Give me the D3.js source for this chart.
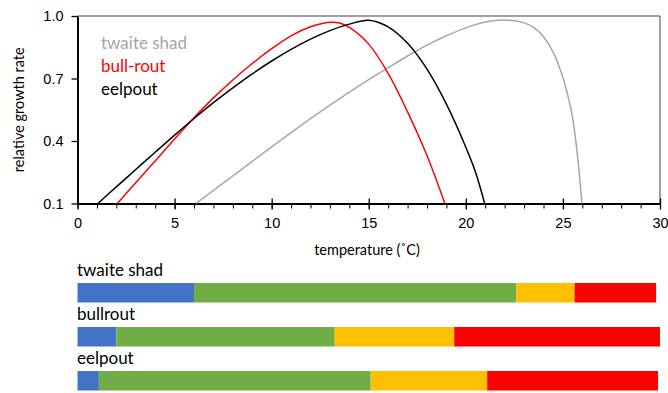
<!DOCTYPE html>
<html>
<head>
<meta charset="utf-8">
<script src="https://cdn.jsdelivr.net/npm/d3@7"></script>
<style>
  body { margin: 0; background: #fff; }
  svg { display: block; font-family: Lato, "Open Sans", sans-serif; }
</style>
</head>
<body>
<div id="chart"></div>
<script>
// growth curves, [temperature, relative rate]
const twaiteShad = [[6.1,0.1],[7,0.163],[8,0.232],[9,0.302],[10,0.372],[11,0.44],[12,0.507],[13,0.572],
  [14,0.635],[15,0.695],[16,0.752],[17,0.808],[18,0.86],[19,0.905],[20,0.943],[21,0.971],[21.8,0.981],
  [22.4,0.978],[23,0.967],[23.5,0.945],[24,0.9],[24.5,0.825],[25,0.705],[25.25,0.62],[25.5,0.51],
  [25.75,0.33],[25.98,0.1]];
const bullRout = [[2.05,0.1],[3,0.2],[4,0.304],[5,0.41],[6,0.512],[7,0.607],[8,0.693],[9,0.772],
  [10,0.843],[11,0.905],[12,0.948],[13,0.97],[13.5,0.966],[14,0.945],[15,0.865],[16,0.725],[17,0.54],
  [18,0.33],[18.92,0.1]];
const eelpout = [[1.05,0.1],[2,0.18],[3,0.263],[4,0.346],[5,0.428],[6,0.508],[7,0.584],[8,0.655],
  [9,0.722],[10,0.784],[11,0.84],[12,0.889],[13,0.93],[14,0.961],[15,0.98],[16,0.948],[17,0.869],
  [18,0.745],[19,0.577],[20,0.37],[20.5,0.25],[20.97,0.1]];

const curveNames = ["twaite shad", "bull-rout", "eelpout"];
const curveColors = ["#a6a6a6", "#ff0000", "#000000"];

const yTicks = [0.1, 0.4, 0.7, 1.0];
const xTicks = [0, 5, 10, 15, 20, 25, 30];

// temperature bands below the plot (edges in degrees C)
const barNames = ["twaite shad", "bullrout", "eelpout"];
const barEdges = [[0, 6.0, 22.6, 25.6, 29.8], [0, 2.0, 13.25, 19.4, 30], [0, 1.1, 15.1, 21.1, 29.9]];
const bandColors = ["#4472c4", "#70ad47", "#ffc000", "#ff0000"];

const W = 668, H = 393;
const svg = d3.select("#chart").append("svg").attr("width", W).attr("height", H);

const x = d3.scaleLinear().domain([0, 30]).range([77.5, 660]);
const y = d3.scaleLinear().domain([0.1, 1.0]).range([203.5, 16]);

// frame top/right
svg.append("path")
  .attr("d", `M${x(0)},${y(1)}H${x(30)}V${y(0.1)}`)
  .attr("fill", "none").attr("stroke", "#404040").attr("stroke-width", 1);

// y axis
const yAxis = svg.append("g")
  .attr("transform", `translate(${x(0)},0)`)
  .call(d3.axisLeft(y).tickValues(yTicks).tickFormat(d3.format(".1f")).tickSize(6).tickSizeOuter(0));
yAxis.select(".domain").attr("stroke-width", 2);
yAxis.selectAll(".tick line").attr("stroke-width", 1.3);
yAxis.selectAll("text").attr("font-size", 14.5).attr("fill", "#000").attr("x", -14).attr("font-family", null);

// minor x ticks
svg.append("g")
  .attr("transform", `translate(0,${y(0.1)})`)
  .call(d3.axisBottom(x).tickValues(d3.range(0, 31)).tickFormat("").tickSize(5).tickSizeOuter(0))
  .call(g => g.select(".domain").remove())
  .selectAll(".tick line").attr("stroke-width", 1);

// major x ticks
const xAxis = svg.append("g")
  .attr("transform", `translate(0,${y(0.1)})`)
  .call(d3.axisBottom(x).tickValues(xTicks).tickSize(6).tickSizeOuter(0));
xAxis.select(".domain").attr("stroke-width", 2);
xAxis.selectAll(".tick line").attr("y1", -5).attr("stroke-width", 1.3);
xAxis.selectAll("text").attr("font-size", 14.5).attr("fill", "#000").attr("y", 14).attr("font-family", null);

// axis titles
svg.append("text")
  .attr("transform", `translate(24,${(y(1) + y(0.1)) / 2}) rotate(-90)`)
  .attr("text-anchor", "middle")
  .attr("font-size", 14.5)
  .text("relative growth rate");

svg.append("text")
  .attr("x", 367).attr("y", 255)
  .attr("text-anchor", "middle")
  .attr("font-size", 14.5)
  .text("temperature (˚C)");

// curves
const line = d3.line().x(d => x(d[0])).y(d => y(d[1])).curve(d3.curveCatmullRom.alpha(0.5));
const series = [twaiteShad, bullRout, eelpout];

svg.append("g").selectAll("path")
  .data(series)
  .enter().append("path")
  .attr("d", line)
  .attr("fill", "none")
  .attr("stroke", (d, i) => curveColors[i])
  .attr("stroke-width", 1.5);

// legend
svg.append("g").selectAll("text")
  .data(curveNames)
  .enter().append("text")
  .attr("x", 101)
  .attr("y", (d, i) => 49 + i * 23)
  .attr("font-size", 17)
  .attr("fill", (d, i) => curveColors[i])
  .text(d => d);

// temperature band bars
const rowY = d3.scalePoint().domain(barNames).range([283, 371]);
const barH = 19.5;

const rows = svg.append("g").selectAll("g")
  .data(barNames)
  .enter().append("g")
  .attr("transform", d => `translate(0,${rowY(d)})`);

rows.append("text")
  .attr("x", 77)
  .attr("y", -7)
  .attr("font-size", 17)
  .text(d => d);

rows.selectAll("rect")
  .data((d, i) => d3.pairs(barEdges[i]))
  .enter().append("rect")
  .attr("x", d => x(d[0]))
  .attr("y", 0)
  .attr("width", d => x(d[1]) - x(d[0]))
  .attr("height", barH)
  .attr("fill", (d, i) => bandColors[i]);
</script>
</body>
</html>
